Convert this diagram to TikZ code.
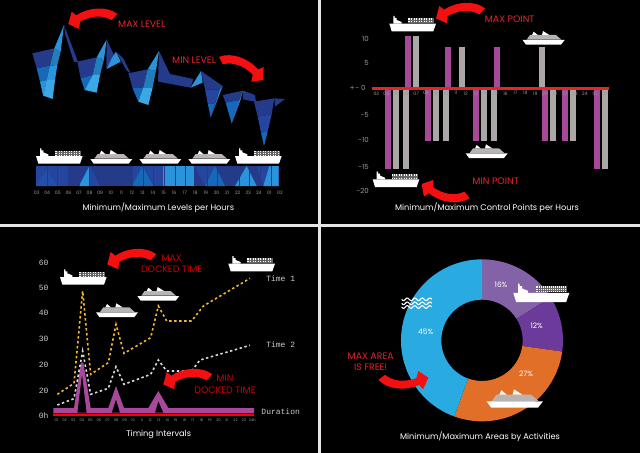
\documentclass[tikz,border=0pt]{standalone}
\usepackage{fontspec}
\usepackage{tikz}
\usepackage{xcolor}
\setmainfont{Poppins}
\setmonofont{Liberation Mono}
\definecolor{rednote}{HTML}{E4252A}
\definecolor{navy}{HTML}{243A8A}
\definecolor{midblue}{HTML}{24469F}
\definecolor{seablue}{HTML}{1668B8}
\definecolor{skyblue}{HTML}{2A93DC}
\definecolor{paleblue}{HTML}{3AA8E5}
\definecolor{barpurple}{HTML}{A8489A}
\definecolor{bargray}{HTML}{ABA7A6}
\definecolor{timeyellow}{HTML}{F5B731}
\definecolor{ringlilac}{HTML}{8462A8}
\definecolor{ringviolet}{HTML}{6C3A9A}
\definecolor{ringorange}{HTML}{E26F28}
\definecolor{ringblue}{HTML}{29ABE2}
\newcommand{\ringslice}[3]{\fill[#1] ({486+243*cos(#2)},{343-243*sin(#2)}) arc[start angle=#2,end angle=#3,radius=81pt]
  -- ({486+122*cos(#3)},{343-122*sin(#3)}) arc[start angle=#3,end angle=#2,radius=40.67pt] -- cycle;}
\tikzset{
  note/.style={text=rednote,font=\fontsize{9.4}{11.4}\selectfont,align=center,inner sep=0pt},
  heading/.style={text=white,font=\fontsize{8.2}{9}\selectfont,inner sep=0pt},
  hourtick/.style={text=gray!80!white,font=\fontsize{4.6}{5}\selectfont,inner sep=0pt},
  smalltick/.style={text=gray!80!white,font=\fontsize{3.6}{4}\selectfont,inner sep=0pt},
  axistick/.style={text=gray!80!white,font=\fontsize{7}{8}\selectfont,inner sep=0pt,anchor=east},
  monotext/.style={text=gray!40!white,font=\ttfamily\fontsize{8}{9}\selectfont,inner sep=0pt},
  pcttext/.style={text=white,font=\fontsize{7.4}{8}\selectfont,inner sep=0pt},
  timeline/.style={line width=1.6pt,dash pattern=on 2.4pt off 2.6pt},
  pics/redarrow/.style={code={
    \fill[rednote!40!red] (0,0) -- (10,-37) -- (24,-26) .. controls (60,-50) and (115,-55) .. (147,-30)
      -- (130,-12) .. controls (100,-28) and (70,-25) .. (35,-7) -- (33,15) -- cycle;
  }},
  pics/cargoship/.style={code={
    \fill[white] (0,23) -- (140,23) -- (132,46) -- (7,46) -- cycle;
    \fill[white] (12,0) -- (16,0) -- (16,6) -- (22,6) -- (22,12) -- (37,18) -- (37,23) -- (12,23) -- cycle;
    \fill[white] (57,7) rectangle (133,22);
    \foreach \c in {62,67,...,132} \draw[black!60,line width=.15pt] (\c,7) -- (\c,22);
    \foreach \c in {12,17} \draw[black!60,line width=.15pt] (57,\c) -- (133,\c);
  }},
  pics/cruiseship/.style={code={
    \fill[white] (0,27) -- (126,27) -- (115,41) -- (10,41) -- cycle;
    \fill[bargray!85!white] (12,26) -- (22,12) -- (100,12) -- (116,26) -- cycle;
    \fill[white] (28,12) -- (33,2) -- (45,12) -- cycle;
    \fill[white] (58,12) -- (61,0) -- (80,12) -- cycle;
  }},
}
\begin{document}
\begin{tikzpicture}[x=0.33333pt,y=-0.33333pt]
\useasboundingbox (0,0) rectangle (1920,1359);
\fill[black] (0,0) rectangle (1920,1359);
\fill[white!90!black] (954,0) rectangle (963,1359);
\fill[white!90!black] (0,673) rectangle (1920,681);

% Levels per hours
\fill[navy] (97,160) -- (163,145) -- (150,197) -- (110,205) -- cycle;
\fill[seablue] (110,205) -- (150,197) -- (140,240) -- (120,245) -- cycle;
\fill[skyblue] (120,245) -- (140,240) -- (130,290) -- cycle;
\fill[skyblue] (163,145) -- (192,75) -- (182,155) -- cycle;
\fill[skyblue!85!black] (163,145) -- (182,155) -- (172,195) -- (150,197) -- cycle;
\fill[skyblue] (150,197) -- (172,195) -- (165,240) -- (140,240) -- cycle;
\fill[paleblue] (140,240) -- (165,240) -- (158,297) -- (130,287) -- cycle;
\fill[navy] (192,75) -- (234,186) -- (222,186) -- (196,105) -- cycle;
\fill[navy] (232,185) -- (290,172) -- (278,225) -- (242,235) -- cycle;
\fill[seablue] (242,235) -- (278,225) -- (255,273) -- cycle;
\fill[skyblue] (290,172) -- (320,118) -- (312,178) -- cycle;
\fill[skyblue!85!black] (290,172) -- (312,178) -- (300,225) -- (278,225) -- cycle;
\fill[paleblue] (278,225) -- (300,225) -- (290,278) -- (255,270) -- cycle;
\fill[navy] (320,118) -- (342,165) -- (319,207) -- cycle;
\fill[skyblue] (348,155) -- (362,185) -- (320,207) -- (335,175) -- cycle;
\fill[navy] (348,155) -- (370,175) -- (392,220) -- (380,212) -- cycle;
\fill[navy] (385,220) -- (443,208) -- (430,262) -- (398,265) -- cycle;
\fill[seablue] (398,265) -- (430,262) -- (415,305) -- cycle;
\fill[skyblue] (443,208) -- (477,153) -- (468,212) -- cycle;
\fill[skyblue!85!black] (443,208) -- (468,212) -- (458,262) -- (430,262) -- cycle;
\fill[paleblue] (430,262) -- (458,262) -- (445,315) -- (415,305) -- cycle;
\fill[navy] (477,153) -- (510,222) -- (474,245) -- cycle;
\fill[navy] (477,228) -- (510,222) -- (580,237) -- (572,263) -- (475,245) -- cycle;
\fill[skyblue] (572,263) -- (603,213) -- (608,248) -- cycle;
\fill[navy] (603,213) -- (668,258) -- (660,268) -- (615,268) -- cycle;
\fill[midblue] (615,268) -- (660,268) -- (645,310) -- (623,310) -- cycle;
\fill[seablue] (623,310) -- (645,310) -- (632,352) -- cycle;
\fill[skyblue] (668,258) -- (660,268) -- (632,352) -- cycle;
\fill[navy] (668,285) -- (729,272) -- (721,300) -- (677,308) -- cycle;
\fill[seablue] (677,308) -- (721,300) -- (695,370) -- cycle;
\fill[skyblue] (729,272) -- (721,300) -- (695,370) -- cycle;
\fill[navy] (729,272) -- (765,285) -- (768,306) -- (729,298) -- cycle;
\fill[navy] (762,305) -- (823,295) -- (815,343) -- (773,350) -- cycle;
\fill[midblue] (773,350) -- (815,343) -- (803,395) -- (783,398) -- cycle;
\fill[seablue] (783,398) -- (803,395) -- (792,438) -- cycle;
\fill[navy] (823,295) -- (855,297) -- (825,320) -- cycle;

% Strip under the ribbon
\fill[navy] (108,498) rectangle (836,558);
\fill[midblue] (108,498) rectangle (205,558);
\fill[midblue!70!seablue] (108,558) -- (140,510) -- (172,558) -- cycle;
\fill[skyblue] (237,558) -- (268,498) -- (268,558) -- cycle;
\fill[midblue] (270,498) -- (300,558) -- (270,558) -- cycle;
\fill[midblue] (395,498) rectangle (488,558);
\fill[seablue] (395,558) -- (428,500) -- (460,558) -- cycle;
\fill[skyblue] (488,498) rectangle (583,558);
\fill[midblue] (583,498) -- (645,498) -- (615,558) -- cycle;
\fill[seablue] (615,558) -- (645,498) -- (675,558) -- cycle;
\fill[skyblue] (705,558) -- (740,498) -- (770,558) -- cycle;
\fill[midblue] (770,498) -- (808,498) -- (790,558) -- cycle;
\fill[skyblue] (808,498) -- (836,498) -- (836,558) -- (790,558) -- cycle;
\foreach \c in {140,172,...,812} \draw[navy,line width=.15pt] (\c,498) -- (\c,558);

\pic at (108,445) {cargoship};
\pic at (271,450) {cruiseship};
\pic at (418,450) {cruiseship};
\pic at (565,450) {cruiseship};
\pic at (705,445) {cargoship};

\foreach \h [count=\i from 0] in {03,04,05,06,07,08,09,10,11,12,13,14,15,16,17,18,19,20,21,22,23,24,01,02}
  \node[hourtick] (levelhr\i) at (110+31.74*\i,578) {\h};
\node[heading] (leveltitle) at (475,622) {Minimum/Maximum Levels per Hours};
\node[note] (maxlevel) at (425,72) {MAX LEVEL};
\node[note] (minlevel) at (582,181) {MIN LEVEL};
\pic at (205,72) {redarrow};
\pic[xscale=-1,rotate=16] at (790,240) {redarrow};

% Control points per hours
\begin{scope}[shift={(960,0)}]
\fill[barpurple] (255,108) rectangle (272,262);
\fill[bargray] (278,108) rectangle (296,262);
\foreach \a in {376,522} \fill[barpurple] (\a,140) rectangle (\a+18,262);
\foreach \a in {418,657} \fill[bargray] (\a,140) rectangle (\a+18,262);
\foreach \a in {196,823} \fill[barpurple] (\a,265) rectangle (\a+18,507);
\foreach \a in {219,248,847} \fill[bargray] (\a,265) rectangle (\a+18,507);
\foreach \a in {315,460,667,725} \fill[barpurple] (\a,265) rectangle (\a+18,423);
\foreach \a in {338,368,484,514,690,749} \fill[bargray] (\a,265) rectangle (\a+18,423);
\fill[rednote] (155,261) rectangle (868,269);
\foreach \h [count=\i from 0] in {03,04,05,06,07,08,09,10,11,12,13,14,15,16,17,18,19,20,21,22,23,24,01,02}
  \node[hourtick] (pointhr\i) at (169+29.8*\i,280) {\h};
\foreach \v/\y in {10/116,5/190,-5/345,-10/420,-15/500,-20/572}
  \node[axistick] (pointy\y) at (147,\y) {\v};
\node[axistick] (pointzero) at (137,265) {+\kern.8pt- 0};

\pic at (208,48) {cargoship};
\pic at (608,93) {cruiseship};
\pic at (437,433) {cruiseship};
\pic at (158,515) {cargoship};
\node[heading] (pointtitle) at (501,622) {Minimum/Maximum Control Points per Hours};
\node[note] (maxpoint) at (569,59) {MAX POINT};
\node[note] (minpoint) at (527,545) {MIN POINT};
\pic at (348,55) {redarrow};
\pic[yscale=-1,rotate=5] at (305,552) {redarrow};
\end{scope}

% Timing intervals
\begin{scope}[shift={(0,678)}]
\fill[barpurple,even odd rule]
  (160,546) -- (222,546) -- (243,410) -- (250,410) -- (272,546) -- (325,546) -- (348,480) -- (372,546)
  -- (445,546) -- (475,495) -- (505,546) -- (762,546) -- (762,562) -- (160,562) -- cycle
  (232,560) -- (246,445) -- (260,560) -- cycle
  (335,560) -- (348,520) -- (360,560) -- cycle
  (465,560) -- (475,525) -- (490,560) -- cycle;
\draw[timeyellow,timeline]
  (172,505) -- (222,472) -- (248,195) -- (272,445) -- (325,410) -- (348,295) -- (372,382) -- (452,335)
  -- (475,240) -- (500,285) -- (575,285) -- (610,240) -- (750,157);
\draw[white!85!black,timeline]
  (172,537) -- (222,518) -- (248,375) -- (272,505) -- (325,487) -- (348,422) -- (372,475) -- (452,445)
  -- (475,402) -- (500,435) -- (575,435) -- (600,402) -- (750,358);
\fill[red] (160,563) rectangle (762,570);
\foreach \h [count=\i from 0] in {01,02,03,04,05,06,07,08,09,10,11,12,13,14,15,16,17,18,19,20,21,22,23}
  \node[smalltick] (timehr\i) at (169+25.6*\i,583) {\h};
\node[smalltick] (timehrend) at (757,583) {24h};
\foreach \v/\y in {60/112,50/187,40/262,30/340,20/417,20/495,0h/568}
  \node[monotext,anchor=east] (timey\y) at (146,\y) {\v};
\node[monotext] (timeone) at (842,157) {Time 1};
\node[monotext] (timetwo) at (842,355) {Time 2};
\node[monotext] (duration) at (842,556) {Duration};

\pic at (180,130) {cargoship};
\pic at (288,232) {cruiseship};
\pic at (412,183) {cruiseship};
\pic at (685,90) {cargoship};
\node[heading] (timetitle) at (476,626) {Timing Intervals};
\node[note,text=red!80!black] (maxdocked) at (515,114) {MAX\\DOCKED TIME};
\node[note,text=red!80!black] (mindocked) at (675,475) {MIN\\DOCKED TIME};
\pic at (322,115) {redarrow};
\pic at (490,475) {redarrow};
\end{scope}

% Areas by activities
\begin{scope}[shift={(960,678)}]
\ringslice{ringlilac}{90}{32}
\ringslice{ringviolet}{32}{-8}
\ringslice{ringorange}{-8}{-110}
\ringslice{ringblue}{-110}{-270}
\foreach \r in {220,232,243}
  \draw[white,line width=1.1pt] plot[domain=245:335,samples=40,variable=\t] (\t,{\r+4*sin(16*(\t-245))});
\pic[scale=1.2] at (580,173) {cargoship};
\pic[scale=1.34] at (500,490) {cruiseship};
\node[pcttext] (pctfree) at (317,317) {45\%};
\node[pcttext] (pctdock) at (543,177) {16\%};
\node[pcttext] (pctport) at (650,300) {12\%};
\node[pcttext] (pctwork) at (618,443) {27\%};
\node[note] (maxarea) at (152,408) {MAX AREA\\IS FREE!};
\node[heading] (areatitle) at (480,631) {Minimum/Maximum Areas by Activities};
\pic[rotate=171] at (325,455) {redarrow};
\end{scope}
\end{tikzpicture}
\end{document}
